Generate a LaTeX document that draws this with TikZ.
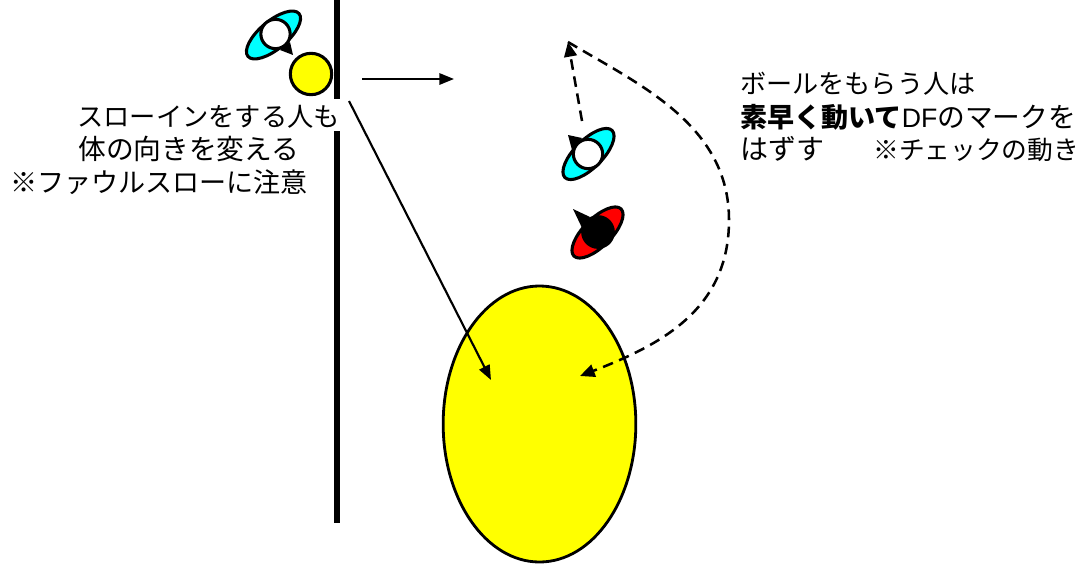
\documentclass[tikz,border=0pt]{standalone}
\usepackage{fontspec}
\setmainfont{Noto Sans CJK JP}
\newfontfamily\latinfont{Liberation Sans}
\usetikzlibrary{arrows.meta,shapes.geometric}
\definecolor{cyanfill}{RGB}{0,255,255}
\definecolor{yellowfill}{RGB}{255,255,0}
\definecolor{redfill}{RGB}{255,0,0}
\newcommand{\fsz}[1]{\fontsize{#1pt}{24pt}\selectfont}
\tikzset{
  x=0.75pt,y=-0.75pt,
  body/.style={ellipse,draw=black,line width=2.3pt,rotate=45,minimum width=50pt,minimum height=21pt,inner sep=0pt,outer sep=0pt},
  headball/.style={circle,draw=black,line width=2.3pt,minimum size=22pt,inner sep=0pt,outer sep=0pt},
  wall/.style={draw=black,line width=4.5pt},
  solidarrow/.style={draw=black,line width=1.6pt,-{Triangle[length=11pt,width=8.5pt]}},
  runarrow/.style={draw=black,line width=1.9pt,dash pattern=on 8pt off 5pt,-{Triangle[length=11pt,width=9.5pt]}},
  caption/.style={anchor=base west,inner sep=0pt},
}
\begin{document}
\begin{tikzpicture}
\useasboundingbox (0,0) rectangle (1080,564);
% touchline, interrupted by the first caption line
\coordinate (wallA) at (337,0);
\coordinate (wallB) at (337,99);
\coordinate (wallC) at (337,131);
\coordinate (wallD) at (337,523);
\draw[wall] (wallA) -- (wallB);
\draw[wall] (wallC) -- (wallD);
% zone
\node[ellipse,draw=black,line width=2.1pt,fill=yellowfill,minimum width=144.5pt,minimum height=207pt,inner sep=0pt,outer sep=0pt] (zone) at (539.5,424) {};
% thrower
\node[body,fill=cyanfill,rotate=-5] (throwerBody) at (273.5,35) {};
\fill[black] (280,50) -- (290,42) -- (293,55) -- cycle;
\node[headball,fill=white] (throwerHead) at (275.5,34) {};
\node[circle,draw=black,line width=2.3pt,fill=yellowfill,minimum size=31pt,inner sep=0pt,outer sep=0pt] (ball) at (311,74) {};
% receiver
\node[body,fill=cyanfill] (receiverBody) at (588.5,154) {};
\fill[black] (582,138) -- (572,150) -- (568,135) -- cycle;
\node[headball,fill=white] (receiverHead) at (588,154) {};
% defender
\node[body,fill=redfill] (defenderBody) at (597.5,232.5) {};
\fill[black] (590,217) -- (583,230) -- (573,209) -- cycle;
\node[headball,fill=black,minimum size=23pt] (defenderHead) at (598,232) {};
% arrows
\coordinate (moveA) at (362,79);
\coordinate (moveB) at (454,79);
\draw[solidarrow] (moveA) -- (moveB);
\coordinate (throwA) at (349,101);
\coordinate (throwB) at (491,380);
\draw[solidarrow] (throwA) -- (throwB);
\coordinate (runStart) at (582,121);
\coordinate (runTip) at (568,42);
\draw[runarrow] (runStart) -- (runTip);
\coordinate (curveEnd) at (580,376);
\draw[runarrow] (runTip) .. controls (640,85) and (729,125) .. (729,220) .. controls (729,310) and (660,345) .. (curveEnd);
% captions
\node[caption] (capA) at (77,126) {\fsz{19.7}スローインをする人も};
\node[caption] (capB) at (78,159) {\fsz{20.8}体の向きを変える};
\node[caption] (capC) at (10,192) {\fsz{20.3}※ファウルスローに注意};
\node[caption] (capD) at (740,93) {\fsz{19.6}ボールをもらう人は};
\node[caption] (capE) at (740,127) {\fsz{20.3}\textbf{素早く動いて}{\latinfont\fsz{20}DF}\fsz{20.8}のマークを};
\node[caption] (capF) at (740,159) {\fsz{21}はずす};
\node[caption] (capG) at (873,159) {\fsz{19.3}※チェックの動き};
\end{tikzpicture}
\end{document}
